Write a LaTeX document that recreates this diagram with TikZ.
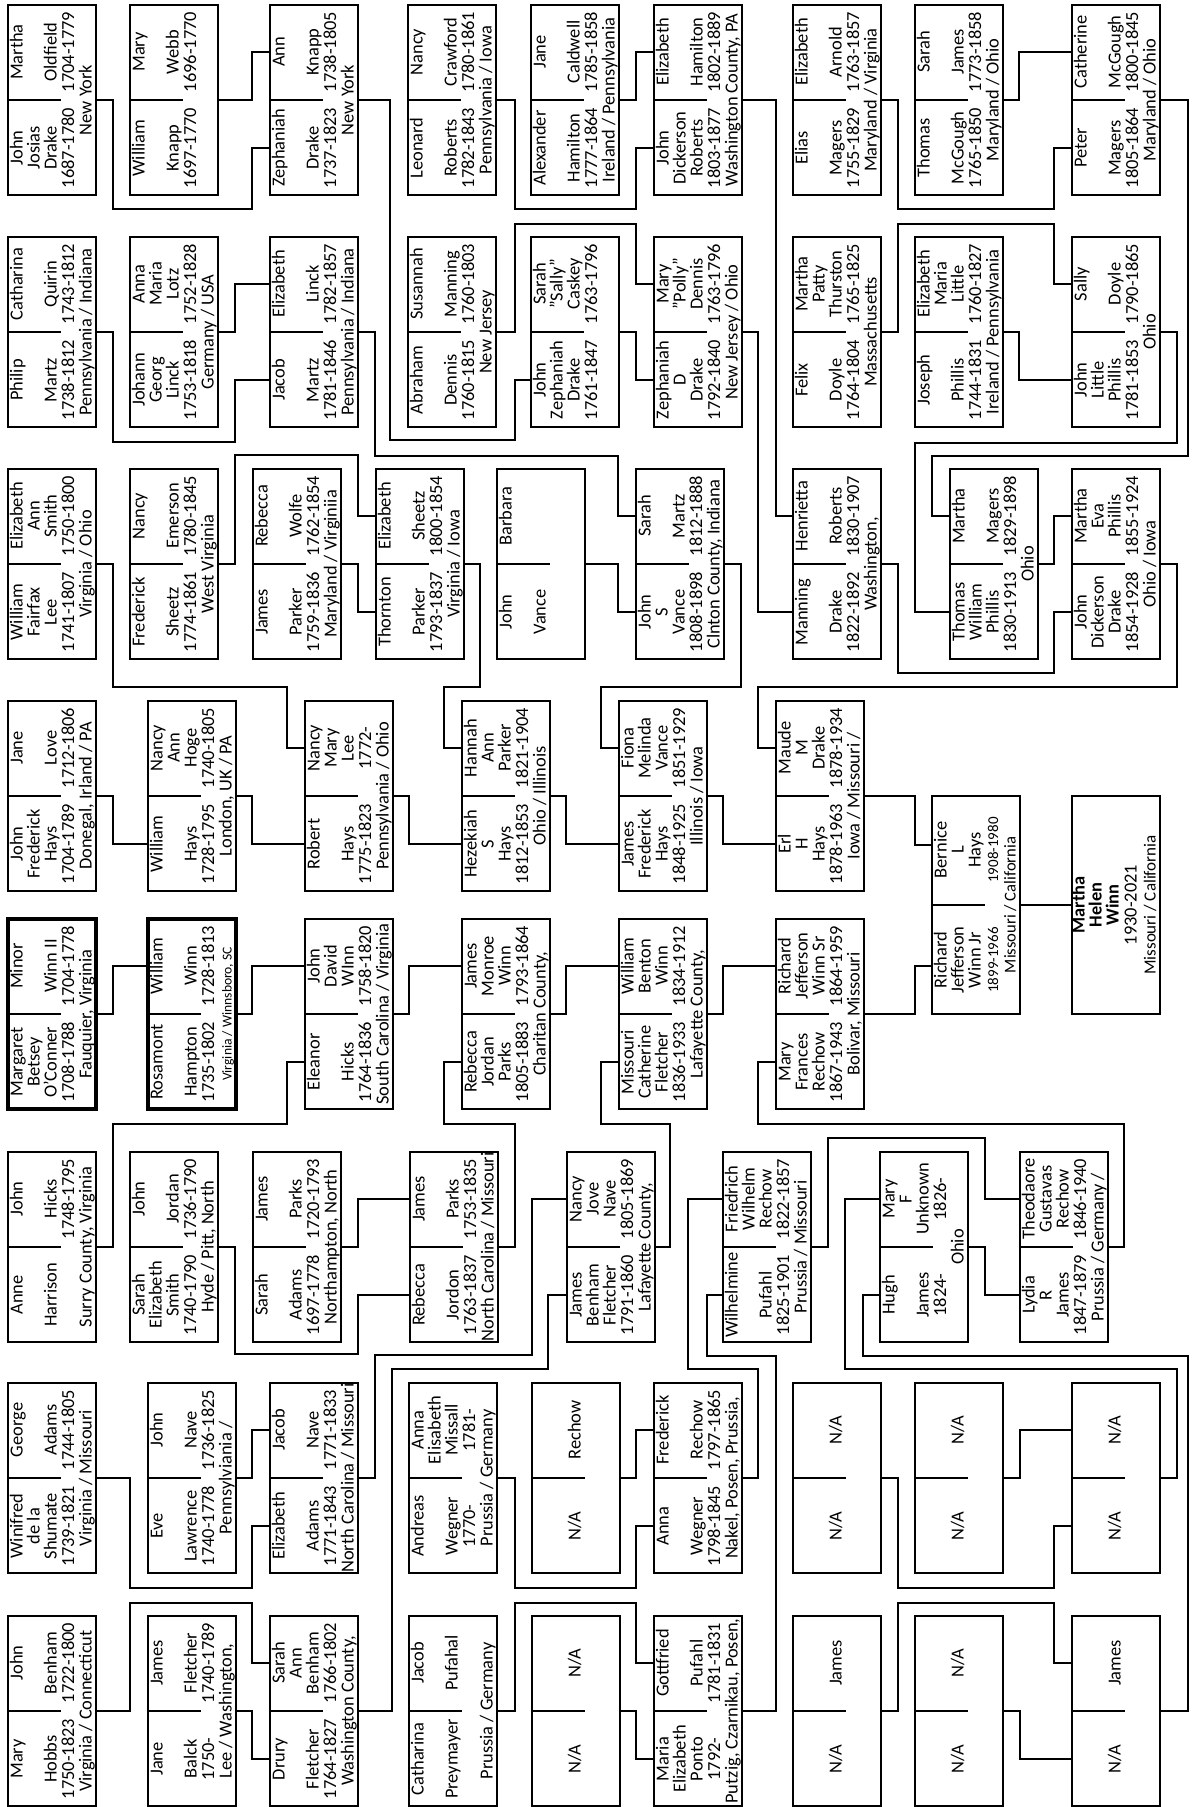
\documentclass[tikz,border=0pt]{standalone}
\usepackage{fontspec}
\setmainfont{Carlito}
\newcounter{tnc}
\newcommand\fsz{\fontsize{9.2pt}{10pt}\selectfont}
\tikzset{
  bx/.style={draw, line width=1pt, minimum width=44pt, minimum height=95pt, inner sep=0pt, outer sep=0pt},
  tbx/.style={bx, line width=2.2pt},
  ln/.style={line width=1pt},
  tx/.style={rotate=90, inner sep=0pt, font=\fsz, text height=6.5pt, text depth=1.9pt},
}
\newcommand\tline[3]{\stepcounter{tnc}\node[tx] (t\thetnc) at (#1,#2) {#3};}
\newcommand\cpl[4]{\def\xo{#2}\def\yo{#3}%
  \node[#4] (#1) at (#2+44,#3+95) {};
  \draw[ln] (#2,#3+95) -- (#2+53,#3+95);
  \coordinate (#1-u) at (#2,#3+47);
  \coordinate (#1-l) at (#2,#3+143);}
\newcommand\halfln[5]{%
  \tline{\xo+10}{\yo+#1}{#2}\tline{\xo+27}{\yo+#1}{#3}\tline{\xo+44}{\yo+#1}{#4}\tline{\xo+61.5}{\yo+#1}{#5}}
\newcommand\ppU[4]{\halfln{47}{#1}{#2}{#3}{#4}}
\newcommand\ppD[4]{\halfln{143}{#1}{#2}{#3}{#4}}
\newcommand\ppP[1]{\tline{\xo+79}{\yo+95}{#1}}
\newcommand\cA[5]{\draw[ln] (#1.east) -- ++(#2,0) |- (#3,#4) |- (#5);}
\newcommand\cB[3]{\draw[ln] (#1.east) -- ++(#2,0) |- (#3);}
\begin{document}
\begin{tikzpicture}[x=0.5pt,y=-0.5pt]
\useasboundingbox (0,0) rectangle (1191,1807);
% ---------- band 1
\cpl{b1a}{8}{5}{bx}\ppU{Martha}{}{Oldfield}{1704-1779}\ppD{John}{Josias}{Drake}{1687-1780}\ppP{New York}
\cpl{b1b}{130}{5}{bx}\ppU{Mary}{}{Webb}{1696-1770}\ppD{William}{}{Knapp}{1697-1770}
\cpl{b1c}{270}{5}{bx}\ppU{Ann}{}{Knapp}{1738-1805}\ppD{Zephaniah}{}{Drake}{1737-1823}\ppP{New York}
\cpl{b1d}{408}{5}{bx}\ppU{Nancy}{}{Crawford}{1780-1861}\ppD{Leonard}{}{Roberts}{1782-1843}\ppP{Pennsylvania / Iowa}
\cpl{b1e}{531}{5}{bx}\ppU{Jane}{}{Caldwell}{1785-1858}\ppD{Alexander}{}{Hamilton}{1777-1864}\ppP{Ireland / Pennsylvania}
\cpl{b1f}{654}{5}{bx}\ppU{Elizabeth}{}{Hamilton}{1802-1889}\ppD{John}{Dickerson}{Roberts}{1803-1877}\ppP{Washington County, PA}
\cpl{b1g}{793}{5}{bx}\ppU{Elizabeth}{}{Arnold}{1763-1857}\ppD{Elias}{}{Magers}{1755-1829}\ppP{Maryland / Virginia}
\cpl{b1h}{915}{5}{bx}\ppU{Sarah}{}{James}{1773-1858}\ppD{Thomas}{}{McGough}{1765-1850}\ppP{Maryland / Ohio}
\cpl{b1i}{1072}{5}{bx}\ppU{Catherine}{}{McGough}{1800-1845}\ppD{Peter}{}{Magers}{1805-1864}\ppP{Maryland / Ohio}
% ---------- band 2
\cpl{b2a}{8}{237}{bx}\ppU{Catharina}{}{Quirin}{1743-1812}\ppD{Philip}{}{Martz}{1738-1812}\ppP{Pennsylvania / Indiana}
\cpl{b2b}{130}{237}{bx}\ppU{Anna}{Maria}{Lotz}{1752-1828}\ppD{Johann}{Georg}{Linck}{1753-1818}\ppP{Germany / USA}
\cpl{b2c}{270}{237}{bx}\ppU{Elizabeth}{}{Linck}{1782-1857}\ppD{Jacob}{}{Martz}{1781-1846}\ppP{Pennsylvania / Indiana}
\cpl{b2d}{408}{237}{bx}\ppU{Susannah}{}{Manning}{1760-1803}\ppD{Abraham}{}{Dennis}{1760-1815}\ppP{New Jersey}
\cpl{b2e}{531}{237}{bx}\ppU{Sarah}{"Sally"}{Caskey}{1763-1796}\ppD{John}{Zephaniah}{Drake}{1761-1847}
\cpl{b2f}{654}{237}{bx}\ppU{Mary}{"Polly"}{Dennis}{1763-1796}\ppD{Zephaniah}{D}{Drake}{1792-1840}\ppP{New Jersey / Ohio}
\cpl{b2g}{793}{237}{bx}\ppU{Martha}{Patty}{Thurston}{1765-1825}\ppD{Felix}{}{Doyle}{1764-1804}\ppP{Massachusetts}
\cpl{b2h}{915}{237}{bx}\ppU{Elizabeth}{Maria}{Little}{1760-1827}\ppD{Joseph}{}{Phillis}{1744-1831}\ppP{Ireland / Pennsylvania}
\cpl{b2i}{1072}{237}{bx}\ppU{Sally}{}{Doyle}{1790-1865}\ppD{John}{Little}{Phillis}{1781-1853}\ppP{Ohio}
% ---------- band 3
\cpl{b3a}{8}{469}{bx}\ppU{Elizabeth}{Ann}{Smith}{1750-1800}\ppD{William}{Fairfax}{Lee}{1741-1807}\ppP{Virginia / Ohio}
\cpl{b3b}{130}{469}{bx}\ppU{Nancy}{}{Emerson}{1780-1845}\ppD{Frederick}{}{Sheetz}{1774-1861}\ppP{West Virginia}
\cpl{b3c}{253}{469}{bx}\ppU{Rebecca}{}{Wolfe}{1762-1854}\ppD{James}{}{Parker}{1759-1836}\ppP{Maryland / Virginiia}
\cpl{b3d}{376}{469}{bx}\ppU{Elizabeth}{}{Sheetz}{1800-1854}\ppD{Thornton}{}{Parker}{1793-1837}\ppP{Virginia / Iowa}
\cpl{b3e}{497}{469}{bx}\ppU{Barbara}{}{}{}\ppD{John}{}{Vance}{}
\cpl{b3f}{636}{469}{bx}\ppU{Sarah}{}{Martz}{1812-1888}\ppD{John}{S}{Vance}{1808-1898}\ppP{Clnton County, Indiana}
\cpl{b3g}{793}{469}{bx}\ppU{Henrietta}{}{Roberts}{1830-1907}\ppD{Manning}{}{Drake}{1822-1892}\ppP{Washington,}
\cpl{b3h}{950}{469}{bx}\ppU{Martha}{}{Magers}{1829-1898}\ppD{Thomas}{William}{Phillis}{1830-1913}\ppP{Ohio}
\cpl{b3i}{1072}{469}{bx}\ppU{Martha}{Eva}{Phillis}{1855-1924}\ppD{John}{Dickerson}{Drake}{1854-1928}\ppP{Ohio / Iowa}
% ---------- band 4
\cpl{b4a}{8}{701}{bx}\ppU{Jane}{}{Love}{1712-1806}\ppD{John}{Frederick}{Hays}{1704-1789}\ppP{Donegal, Irland / PA}
\cpl{b4b}{148}{701}{bx}\ppU{Nancy}{Ann}{Hoge}{1740-1805}\ppD{William}{}{Hays}{1728-1795}\ppP{London, UK / PA}
\cpl{b4c}{305}{701}{bx}\ppU{Nancy}{Mary}{Lee}{1772-}\ppD{Robert}{}{Hays}{1775-1823}\ppP{Pennsylvania / Ohio}
\cpl{b4d}{462}{701}{bx}\ppU{Hannah}{Ann}{Parker}{1821-1904}\ppD{Hezekiah}{S}{Hays}{1812-1853}\ppP{Ohio / Illinois}
\cpl{b4e}{619}{701}{bx}\ppU{Fiona}{Melinda}{Vance}{1851-1929}\ppD{James}{Frederick}{Hays}{1848-1925}\ppP{Illinois / Iowa}
\cpl{b4f}{776}{701}{bx}\ppU{Maude}{M}{Drake}{1878-1934}\ppD{Erl}{H}{Hays}{1878-1963}\ppP{Iowa / Missouri /}
% ---------- parents and root
\node[bx, minimum height=109pt] (bj) at (976,905) {};
\draw[ln] (932,905) -- (985,905);
\coordinate (bj-u) at (932,845);
\coordinate (bj-l) at (932,966);
\tline{942}{850}{Bernice}\tline{959}{850}{L}\tline{976}{850}{Hays}\tline{993.5}{850}{\fontsize{7.5pt}{8pt}\selectfont 1908-1980}
\tline{942}{960}{Richard}\tline{959}{960}{Jefferson}\tline{976}{960}{Winn Jr}\tline{993.5}{960}{\fontsize{7.5pt}{8pt}\selectfont 1899-1966}
\tline{1011}{905}{\fontsize{8.3pt}{9pt}\selectfont Missouri / California}
\node[bx, minimum height=109pt] (bm) at (1116,905) {};
\tline{1080}{905}{\bfseries Martha}\tline{1097}{905}{\bfseries Helen}\tline{1114}{905}{\bfseries Winn}
\tline{1132}{905}{1930-2021}\tline{1151}{905}{\fontsize{8.5pt}{9pt}\selectfont Missouri / California}
% ---------- band 5
\cpl{b5a}{8}{919}{tbx}\ppU{Minor}{}{Winn II}{1704-1778}\ppD{Margaret}{Betsey}{O'Conner}{1708-1788}\ppP{Fauquier, Virginia}
\cpl{b5b}{148}{919}{tbx}\ppU{William}{}{Winn}{1728-1813}\ppD{Rosamont}{}{Hampton}{1735-1802}\ppP{\fontsize{6.8pt}{7pt}\selectfont Virginia / Winnsboro, SC}
\cpl{b5c}{305}{919}{bx}\ppU{John}{David}{WInn}{1758-1820}\ppD{Eleanor}{}{Hicks}{1764-1836}\ppP{South Carolina / Virginia}
\cpl{b5d}{462}{919}{bx}\ppU{James}{Monroe}{Winn}{1793-1864}\ppD{Rebecca}{Jordan}{Parks}{1805-1883}\ppP{Charitan County,}
\cpl{b5e}{619}{919}{bx}\ppU{William}{Benton}{Winn}{1834-1912}\ppD{Missouri}{Catherine}{Fletcher}{1836-1933}\ppP{Lafayette County,}
\cpl{b5f}{776}{919}{bx}\ppU{Richard}{Jefferson}{Winn Sr}{1864-1959}\ppD{Mary}{Frances}{Rechow}{1867-1943}\ppP{Bolivar, Missouri}
% ---------- band 6
\cpl{b6a}{8}{1152}{bx}\ppU{John}{}{Hicks}{1748-1795}\ppD{Anne}{}{Harrison}{}\ppP{Surry County, Virginia}
\cpl{b6b}{130}{1152}{bx}\ppU{John}{}{Jordan}{1736-1790}\ppD{Sarah}{Elizabeth}{Smith}{1740-1790}\ppP{Hyde / Pitt, North}
\cpl{b6c}{253}{1152}{bx}\ppU{James}{}{Parks}{1720-1793}\ppD{Sarah}{}{Adams}{1697-1778}\ppP{Northampton, North}
\cpl{b6d}{410}{1152}{bx}\ppU{James}{}{Parks}{1753-1835}\ppD{Rebecca}{}{Jordon}{1763-1837}\ppP{North Carolina / Missouri}
\cpl{b6e}{567}{1152}{bx}\ppU{Nancy}{Jove}{Nave}{1805-1869}\ppD{James}{Benham}{Fletcher}{1791-1860}\ppP{Lafayette County,}
\cpl{b6f}{723}{1152}{bx}\ppU{Friedrich}{Wilhelm}{Rechow}{1822-1857}\ppD{Wilhelmine}{}{Pufahl}{1825-1901}\ppP{Prussia / Missouri}
\cpl{b6g}{880}{1152}{bx}\ppU{Mary}{F}{Unknown}{1826-}\ppD{Hugh}{}{James}{1824-}\ppP{Ohio}
\cpl{b6h}{1020}{1152}{bx}\ppU{Theodaore}{Gustavas}{Rechow}{1846-1940}\ppD{Lydia}{R}{James}{1847-1879}\ppP{Prussia / Germany /}
% ---------- band 7
\cpl{b7a}{8}{1383}{bx}\ppU{George}{}{Adams}{1744-1805}\ppD{Winifred}{de la}{Shumate}{1739-1821}\ppP{Virginia / Missouri}
\cpl{b7b}{148}{1383}{bx}\ppU{John}{}{Nave}{1736-1825}\ppD{Eve}{}{Lawrence}{1740-1778}\ppP{Pennsylviania /}
\cpl{b7c}{270}{1383}{bx}\ppU{Jacob}{}{Nave}{1771-1833}\ppD{Elizabeth}{}{Adams}{1771-1843}\ppP{North Carolina / Missouri}
\cpl{b7d}{409}{1383}{bx}\ppU{Anna}{Elisabeth}{Missall}{1781-}\ppD{Andreas}{}{Wegner}{1770-}\ppP{Prussia / Germany}
\cpl{b7e}{532}{1383}{bx}\ppU{}{}{Rechow}{}\ppD{}{}{N/A}{}
\cpl{b7f}{654}{1383}{bx}\ppU{Frederick}{}{Rechow}{1797-1865}\ppD{Anna}{}{Wegner}{1798-1845}\ppP{Nakel, Posen, Prussia,}
\cpl{b7g}{793}{1383}{bx}\ppU{}{}{N/A}{}\ppD{}{}{N/A}{}
\cpl{b7h}{915}{1383}{bx}\ppU{}{}{N/A}{}\ppD{}{}{N/A}{}
\cpl{b7i}{1072}{1383}{bx}\ppU{}{}{N/A}{}\ppD{}{}{N/A}{}
% ---------- band 8
\cpl{b8a}{8}{1616}{bx}\ppU{John}{}{Benham}{1722-1800}\ppD{Mary}{}{Hobbs}{1750-1823}\ppP{Virginia / Connecticut}
\cpl{b8b}{148}{1616}{bx}\ppU{James}{}{Fletcher}{1740-1789}\ppD{Jane}{}{Balck}{1750-}\ppP{Lee / Washington,}
\cpl{b8c}{270}{1616}{bx}\ppU{Sarah}{Ann}{Benham}{1766-1802}\ppD{Drury}{}{Fletcher}{1764-1827}\ppP{Washington County,}
\cpl{b8d}{409}{1616}{bx}\ppU{Jacob}{}{Pufahal}{}\ppD{Catharina}{}{Preymayer}{}\ppP{Prussia / Germany}
\cpl{b8e}{532}{1616}{bx}\ppU{}{}{N/A}{}\ppD{}{}{N/A}{}
\cpl{b8f}{654}{1616}{bx}\ppU{Gottfried}{}{Pufahl}{1781-1831}\ppD{Maria}{Elizabeth}{Ponto}{1792-}\ppP{Putzig, Czarnikau, Posen,}
\cpl{b8g}{793}{1616}{bx}\ppU{}{}{James}{}\ppD{}{}{N/A}{}
\cpl{b8h}{915}{1616}{bx}\ppU{}{}{N/A}{}\ppD{}{}{N/A}{}
\cpl{b8i}{1072}{1616}{bx}\ppU{}{}{James}{}\ppD{}{}{N/A}{}
% ---------- connectors
\cA{b1a}{17}{252}{209}{b1c-l}
\cB{b1b}{34}{b1c-u}
\cA{b1c}{32}{515}{440}{b2e-l}
\cA{b1d}{19}{636}{209}{b1f-l}
\cB{b1e}{17}{b1f-u}
\cB{b1f}{34}{b3g-u}
\cA{b1g}{17}{1054}{209}{b1i-l}
\cB{b1h}{16}{b1i-u}
\cA{b1i}{28}{932}{456}{b3h-u}
\cA{b2a}{17}{235}{442}{b2c-l}
\cB{b2b}{17}{b2c-u}
\cA{b2c}{17}{618}{456}{b3f-u}
\cA{b2d}{19}{636}{224}{b2f-u}
\cB{b2e}{17}{b2f-l}
\cB{b2f}{16}{b3g-l}
\cA{b2g}{17}{1054}{224}{b2i-u}
\cB{b2h}{16}{b2i-l}
\cA{b2i}{17}{915}{443}{b3h-l}
\cA{b3a}{17}{287}{687}{b4c-u}
\cA{b3b}{17}{358}{455}{b3d-u}
\cB{b3c}{17}{b3d-l}
\cA{b3d}{16}{444}{687}{b4d-u}
\cB{b3e}{33}{b3f-l}
\cA{b3f}{17}{601}{687}{b4e-u}
\cA{b3g}{17}{1054}{673}{b3i-l}
\cB{b3h}{16}{b3i-u}
\cA{b3i}{17}{758}{687}{b4f-u}
\cB{b4a}{17}{b4b-l}
\cB{b4b}{16}{b4c-l}
\cB{b4c}{16}{b4d-l}
\cB{b4d}{16}{b4e-l}
\cB{b4e}{16}{b4f-l}
\cB{b4f}{51}{bj-u}
\cB{b5f}{51}{bj-l}
\draw[ln] (bj.east) -- (bm.west);
\cB{b5a}{17}{b5b-u}
\cB{b5b}{16}{b5c-u}
\cB{b5c}{16}{b5d-u}
\cB{b5d}{16}{b5e-u}
\cB{b5e}{16}{b5f-u}
\cA{b6a}{17}{287}{1124}{b5c-l}
\cA{b6b}{17}{358}{1354}{b6d-l}
\cB{b6c}{17}{b6d-u}
\cA{b6d}{17}{444}{1124}{b5d-l}
\cA{b6e}{15}{601}{1124}{b5e-l}
\cA{b6f}{17}{985}{1138}{b6h-u}
\cB{b6g}{17}{b6h-l}
\cA{b6h}{16}{758}{1124}{b5f-l}
\cA{b7a}{34}{252}{1588}{b7c-l}
\cB{b7b}{16}{b7c-u}
\cA{b7c}{17}{532}{1355}{b6e-u}
\cA{b8a}{34}{252}{1603}{b8c-u}
\cB{b8b}{16}{b8c-l}
\cA{b8c}{34}{548}{1369}{b6e-l}
\cA{b7d}{18}{636}{1588}{b7f-l}
\cB{b7e}{16}{b7f-u}
\cA{b7f}{16}{688}{1369}{b6f-u}
\cA{b8d}{18}{636}{1603}{b8f-u}
\cB{b8e}{16}{b8f-l}
\cA{b8f}{34}{707}{1356}{b6f-l}
\cA{b7g}{17}{1054}{1588}{b7i-l}
\cB{b7h}{17}{b7i-u}
\cA{b7i}{17}{845}{1369}{b6g-u}
\cA{b8g}{17}{1054}{1603}{b8i-u}
\cB{b8h}{17}{b8i-l}
\cA{b8i}{28}{863}{1356}{b6g-l}
\end{tikzpicture}
\end{document}
